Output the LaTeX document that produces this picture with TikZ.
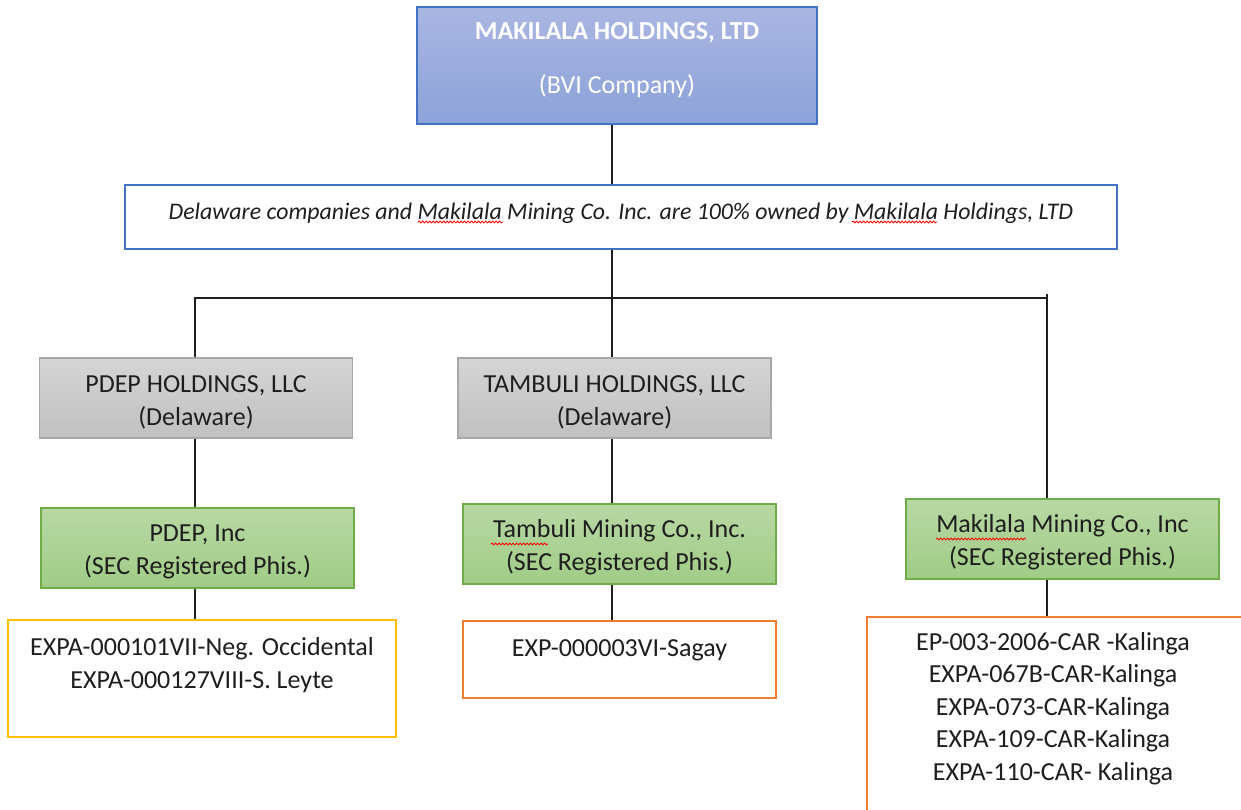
\documentclass[tikz,border=0pt]{standalone}
\usepackage{fontspec}
\setmainfont{Carlito}
\usetikzlibrary{positioning,decorations.pathmorphing}

\definecolor{accblue}{HTML}{4472C4}
\definecolor{bluetop}{RGB}{170,182,226}
\definecolor{bluebot}{RGB}{140,162,217}
\definecolor{graybd}{RGB}{168,168,168}
\definecolor{graytop}{RGB}{213,213,213}
\definecolor{graybot}{RGB}{192,192,192}
\definecolor{greenbd}{HTML}{70AD47}
\definecolor{greentop}{RGB}{184,216,164}
\definecolor{greenbot}{RGB}{160,204,134}
\definecolor{ambr}{HTML}{FFC000}
\definecolor{orng}{HTML}{ED7D31}
\definecolor{txtgray}{RGB}{30,30,30}

\newcommand{\hstrut}{\rule{0pt}{25pt}}

\tikzset{
  orgbox/.style={draw, line width=1.2pt, minimum width=313pt, minimum height=80pt,
    align=center, inner sep=0pt, text=txtgray, font=\fontsize{26}{33}\selectfont},
  holding/.style={orgbox, draw=graybd, top color=graytop, bottom color=graybot},
  mining/.style={orgbox, draw=greenbd, top color=greentop, bottom color=greenbot},
  permits/.style={draw, line width=1.2pt, fill=white, inner sep=0pt},
  permlist/.style={align=center, inner sep=0pt, text=txtgray, font=\fontsize{26}{32.5}\selectfont},
  link/.style={line width=1.2pt, draw=txtgray},
  spell/.style={draw=red, line width=0.8pt, decorate,
    decoration={snake, amplitude=1pt, segment length=3.5pt}},
}

\begin{document}
\begin{tikzpicture}[x=1pt, y=-1pt]
\useasboundingbox (0,0) rectangle (1241,809);

% parent and note
\node[orgbox, draw=accblue, top color=bluetop, bottom color=bluebot, text=white,
  minimum width=400pt, minimum height=117pt] (bvi) at (617,65.5)
  {\textbf{MAKILALA HOLDINGS, LTD}\\[21pt](BVI Company)\rule[-15pt]{0pt}{1pt}};
\node[orgbox, draw=accblue, fill=white, minimum width=992pt, minimum height=64pt,
  font=\fontsize{23.8}{30}\selectfont] (note) at (621,217)
  {\raisebox{12pt}{\itshape Delaware companies and Makilala Mining Co. Inc. are 100\% owned by Makilala Holdings, LTD}};

% holdings
\node[holding] (pdeph) at (196,398) {\hstrut PDEP HOLDINGS, LLC\\(Delaware)};
\node[holding] (tambh) at (614.5,398) {\hstrut TAMBULI HOLDINGS, LLC\\(Delaware)};

% operating companies
\node[mining] (pdepi) at (197.5,548) {\hstrut PDEP, Inc\\(SEC Registered Phis.)};
\node[mining] (tambm) at (619.5,544) {\hstrut Tambuli Mining Co., Inc.\\(SEC Registered Phis.)};
\node[mining] (makm) at (1062.5,539) {\hstrut Makilala Mining Co., Inc\\(SEC Registered Phis.)};

% permits
\node[permits, draw=ambr, minimum width=388pt, minimum height=117pt] (pdepbox) at (202,678.5) {};
\node[permlist, below=18pt of pdepbox.north] (pdeplist)
  {EXPA-000101VII-Neg. Occidental\\EXPA-000127VIII-S. Leyte};
\node[permits, draw=orng, minimum width=313pt, minimum height=77pt] (tambbox) at (619.5,659.5) {};
\node[permlist, below=19pt of tambbox.north] (tamblist) {EXP-000003VI-Sagay};
\node[permits, draw=orng, minimum width=403pt, minimum height=213pt] (makbox) at (1068.5,723.5) {};
\node[permlist, below=15.5pt of makbox.north, xshift=-15.5pt] (maklist)
  {EP-003-2006-CAR -Kalinga\\EXPA-067B-CAR-Kalinga\\EXPA-073-CAR-Kalinga\\EXPA-109-CAR-Kalinga\\EXPA-110-CAR- Kalinga};

% connectors
\coordinate (busmid) at (612,298);
\coordinate (busleft) at (195,298);
\coordinate (busright) at (1047,298);
\draw[link] (bvi.south -| busmid) -- (note.north -| busmid);
\draw[link] (note.south -| busmid) -- (busmid);
\draw[link] (pdeph.north -| busleft) |- (busright) -- (makm.north -| busright);
\draw[link] (busright) -- ++(0,-4);
\draw[link] (busmid) -- (tambh.north -| busmid);
\draw[link] (pdeph.south -| busleft) -- (pdepi.north -| busleft);
\draw[link] (pdepi.south -| busleft) -- (pdepbox.north -| busleft);
\draw[link] (tambh.south -| busmid) -- (tambm.north -| busmid);
\draw[link] (tambm.south -| busmid) -- (tambbox.north -| busmid);
\draw[link] (makm.south -| busright) -- (makbox.north -| busright);

% spell-check marks
\draw[spell] (418,222) -- (503,222);
\draw[spell] (852,222) -- (937,222);
\draw[spell] (491,544) -- (548,544);
\draw[spell] (936,539) -- (1026,539);
\end{tikzpicture}
\end{document}
